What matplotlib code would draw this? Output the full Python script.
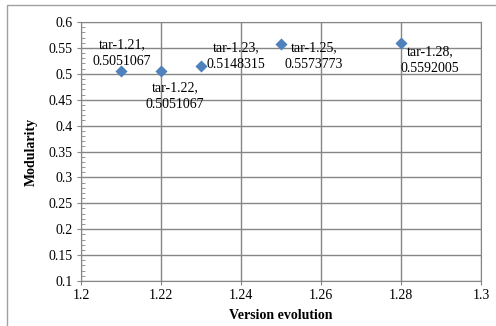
import matplotlib.pyplot as plt
from matplotlib.ticker import MultipleLocator
from matplotlib.patches import Rectangle

# data
versions = [1.21, 1.22, 1.23, 1.25, 1.28]
modularity = [0.5051067, 0.5051067, 0.5148315, 0.5573773, 0.5592005]
labels = ['tar-1.21,\n0.5051067', 'tar-1.22,\n0.5051067', 'tar-1.23,\n0.5148315',
          'tar-1.25,\n0.5573773', 'tar-1.28,\n0.5592005']
# label offsets in pixels (Excel-ish placement)
offsets = [(1, 18), (14, -25), (35, 10), (33, -12), (29, -17)]

plt.rcParams['font.family'] = 'Liberation Serif'
grid_col = '#868686'
fs = 10

fig = plt.figure(figsize=(4.96, 3.26), dpi=100)
ax = fig.add_axes([81 / 496, 1 - 281 / 326, 400 / 496, 259 / 326])

# outer chart border
fig.patches.append(Rectangle((7 / 496, -0.05), 1.1, 1 - 5 / 326 + 0.05, transform=fig.transFigure,
                             fill=False, edgecolor='#a0a0a0', linewidth=1.0))

ax.scatter(versions, modularity, marker='D', s=38, color='#4f81bd', zorder=3, linewidths=0)
for x, y, txt, off in zip(versions, modularity, labels, offsets):
    ax.annotate(txt, (x, y), xytext=off, textcoords='offset pixels', ha='center', va='center',
                multialignment='center', fontsize=fs, linespacing=1.3)

ax.set_xlim(1.2, 1.3)
ax.set_ylim(0.1, 0.6)
ax.yaxis.set_minor_locator(MultipleLocator(0.01))
ax.set_xticks([1.2, 1.22, 1.24, 1.26, 1.28, 1.3], ['1.2', '1.22', '1.24', '1.26', '1.28', '1.3'])
ax.set_yticks([0.1, 0.15, 0.2, 0.25, 0.3, 0.35, 0.4, 0.45, 0.5, 0.55, 0.6],
              ['0.1', '0.15', '0.2', '0.25', '0.3', '0.35', '0.4', '0.45', '0.5', '0.55', '0.6'])
ax.grid(True, color=grid_col, linewidth=1.0)
ax.set_axisbelow(True)
for s in ax.spines.values():
    s.set_color(grid_col)
ax.tick_params(which='major', length=3, color=grid_col, labelsize=fs, pad=3)
ax.tick_params(axis='y', which='minor', direction='in', length=3, color=grid_col)

ax.set_xlabel('Version evolution', fontsize=fs, fontweight='bold', labelpad=5)
ax.set_ylabel('Modularity', fontsize=fs, fontweight='bold', labelpad=8)

fig.savefig('out.png', dpi=100)
